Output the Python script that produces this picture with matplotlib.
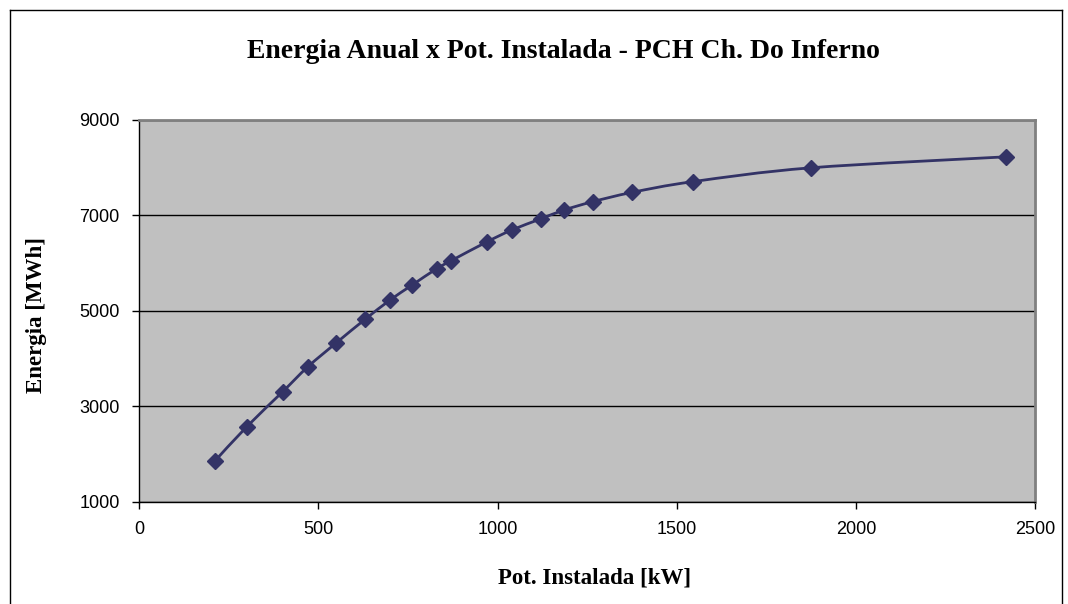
import numpy as np
import matplotlib.pyplot as plt
from matplotlib.path import Path
from matplotlib.patches import PathPatch
from matplotlib.lines import Line2D

# installed power [kW] vs annual energy [MWh]
potencia = [210, 300, 400, 470, 550, 630, 700, 760, 830, 870, 970,
            1040, 1120, 1185, 1265, 1375, 1545, 1875, 2420]
energia = [1850, 2575, 3305, 3825, 4330, 4820, 5225, 5530, 5880, 6045, 6440,
           6690, 6920, 7105, 7280, 7475, 7700, 7990, 8220]

x_ticks = [0, 500, 1000, 1500, 2000, 2500]
y_ticks = [1000, 3000, 5000, 7000, 9000]

title = 'Energia Anual x Pot. Instalada - PCH Ch. Do Inferno'
xlabel = 'Pot. Instalada [kW]'
ylabel = 'Energia [MWh]'

navy = '#333366'
serif = ['Liberation Serif', 'DejaVu Serif']
sans = ['Liberation Sans', 'DejaVu Sans']


def smooth_path(xs, ys, k=1 / 6):
    # excel-like smoothed line: cubic bezier segments with catmull-rom tangents
    pts = np.column_stack([xs, ys]).astype(float)
    n = len(pts)
    verts = [pts[0]]
    codes = [Path.MOVETO]
    for i in range(n - 1):
        p0 = pts[i - 1] if i > 0 else pts[i]
        p1, p2 = pts[i], pts[i + 1]
        p3 = pts[i + 2] if i + 2 < n else pts[i + 1]
        c1 = p1 + (p2 - p0) * k
        c2 = p2 - (p3 - p1) * k
        verts += [c1, c2, p2]
        codes += [Path.CURVE4] * 3
    return Path(verts, codes)


fig = plt.figure(figsize=(10.68, 6.04), dpi=100)
ax = fig.add_axes([139.3 / 1068, 1 - 502 / 604, (1035 - 139.3) / 1068, (502 - 119.5) / 604])
ax.set_facecolor('#C0C0C0')

ax.set_xlim(0, 2500)
ax.set_ylim(1000, 9000)
ax.set_xticks(x_ticks)
ax.set_yticks(y_ticks)
ax.set_xticklabels([str(v) for v in x_ticks], family=sans, fontsize=13)
ax.set_yticklabels([str(v) for v in y_ticks], family=sans, fontsize=13)
ax.tick_params(direction='out', length=5, width=1, color='black', pad=9)
ax.grid(axis='y', color='black', linewidth=1)
ax.set_axisbelow(True)

for side in ['top', 'right']:
    ax.spines[side].set_color('#808080')
    ax.spines[side].set_linewidth(2)
for side in ['left', 'bottom']:
    ax.spines[side].set_color('black')
    ax.spines[side].set_linewidth(1)

ax.add_patch(PathPatch(smooth_path(potencia, energia), facecolor='none',
                       edgecolor=navy, linewidth=2.0, zorder=3))
ax.plot(potencia, energia, linestyle='none', marker='D', markersize=8,
        color=navy, zorder=4)

fig.text(563 / 1068, 1 - 52 / 604, title, ha='center', va='center',
         family=serif, fontweight='bold', fontsize=20)
fig.text(595 / 1068, 1 - 578 / 604, xlabel, ha='center', va='center',
         family=serif, fontweight='bold', fontsize=16.5)
fig.text(37 / 1068, 1 - 315 / 604, ylabel, ha='center', va='center',
         rotation=90, family=serif, fontweight='bold', fontsize=16.5)

# chart area frame
fig.add_artist(Line2D([10 / 1068, 10 / 1068], [0, 1 - 10 / 604],
                      transform=fig.transFigure, color='black', linewidth=1))
fig.add_artist(Line2D([10 / 1068, 1062 / 1068], [1 - 10 / 604, 1 - 10 / 604],
                      transform=fig.transFigure, color='black', linewidth=1))
fig.add_artist(Line2D([1062 / 1068, 1062 / 1068], [0, 1 - 10 / 604],
                      transform=fig.transFigure, color='black', linewidth=1))

fig.savefig('out.png', dpi=100, facecolor='white')
